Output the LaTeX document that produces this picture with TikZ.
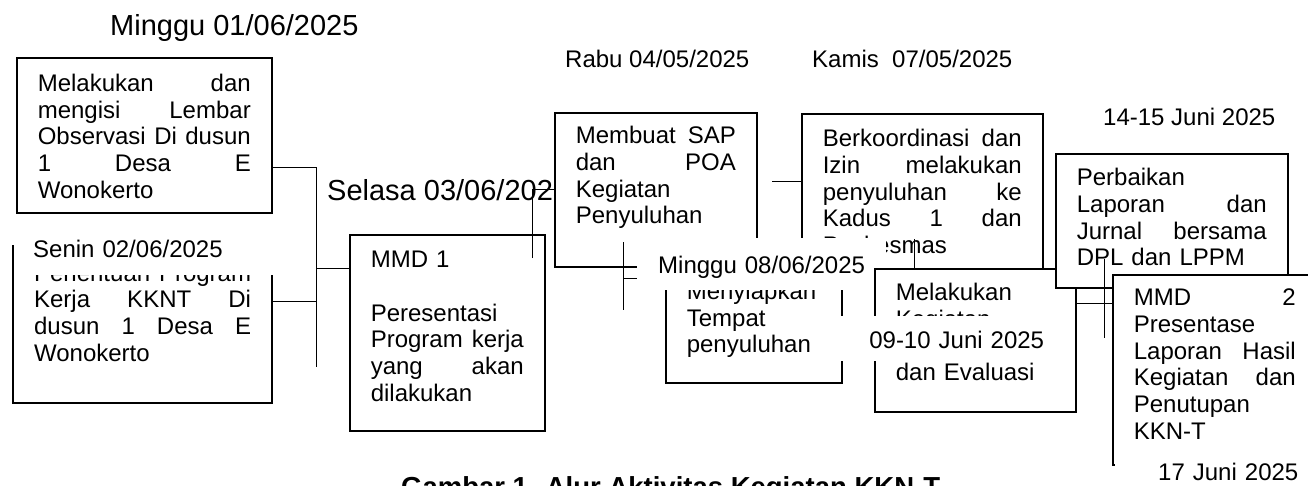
\documentclass[tikz,border=0pt]{standalone}
\usepackage{fontspec}
\setmainfont{Liberation Sans}
\usetikzlibrary{calc}
\newcommand{\isi}{\fontsize{24}{26.7}\selectfont}
\newcommand{\besar}{\fontsize{29}{33}\selectfont}
\newcommand{\judul}{\fontsize{27.5}{31}\selectfont\bfseries}

\begin{document}
\begin{tikzpicture}[x=1pt, y=-1pt,
      kotak/.style={draw=black, fill=white, line width=1.6pt, anchor=north west, inner xsep=21pt, inner ysep=0pt, align=left, font=\isi},
      tanggal/.style={fill=white, anchor=north west, inner ysep=0pt, align=left, font=\isi},
      hari/.style={anchor=base west, inner sep=0pt, font=\isi},
      garis/.style={line width=0.9pt}]
      \useasboundingbox (0,0) rectangle (1308,485);
      \node (minggu1) at (110,35.5) [hari, font=\besar] {Minggu 01/06/2025};
      \node (obs) at (16,57) [kotak, text width=213pt, text height=33.7pt, text depth=121.3pt]
        {Melakukan\hfill dan\\ mengisi\hfill Lembar\\ Observasi\hfill Di\hfill dusun\\ 1\hfill Desa\hfill E\\ Wonokerto};
      \coordinate (t1) at (316,167);
      \coordinate (t2) at (316,367);
      \draw[garis] (t1 -| obs.east) -- (t1) -- (t2);
      \node (pkerja) at (12,245) [kotak, line width=2.2pt, text width=217pt, text height=35pt, text depth=122pt]
        {Penentuan\hfill Program\\ Kerja\hfill KKNT\hfill Di\\ dusun\hfill 1\hfill Desa\hfill E\\ Wonokerto};
      \coordinate (t3) at (316,301);
      \draw[garis] (t3 -| pkerja.east) -- (t3);
      \node (senin) at (14,233) [tanggal, inner xsep=19pt, text width=224pt, text height=24pt, text depth=18pt] {Senin 02/06/2025};
      \node (mmd1) at (349,234) [kotak, text width=153pt, text height=33pt, text depth=163pt]
        {MMD 1\\[26.7pt] Peresentasi\\ Program\hfill kerja\\ yang\hfill akan\\ dilakukan};
      \coordinate (t4) at (316,268);
      \draw[garis] (t4) -- (t4 -| mmd1.west);
      \node (selasa) at (327,200) [hari, font=\besar] {Selasa 03/06/2025};
      % SAP dan POA
      \node (sap) at (554,112) [kotak, text width=160pt, text height=31pt, text depth=123pt]
        {Membuat\hfill SAP\\ dan\hfill POA\\ Kegiatan\\ Penyuluhan};
      \coordinate (b1) at (532,258);
      \draw[garis] (b1) |- (sap.west);
      \node (rabu) at (565,67) [hari] {Rabu 04/05/2025};
      \node (kamis) at (812,67) [hari] {Kamis\ \ 07/05/2025};
      \node (koord) at (801,113) [kotak, text width=199pt, text height=33pt, text depth=139pt]
        {Berkoordinasi\hfill dan\\ Izin\hfill melakukan\\ penyuluhan\hfill ke\\ Kadus\hfill 1\hfill dan\\ Puskesmas};
      \coordinate (c3) at (772,181);
      \draw[garis] (c3) -- (c3 -| koord.west);
      \node (siap) at (665,262) [kotak, text width=134pt, text height=36.5pt, text depth=83.5pt]
        {Menyiapkan\\ Tempat\\ penyuluhan};
      \coordinate (c4) at (623,242);
      \coordinate (c5) at (623,310);
      \draw[garis] (c4) -- (c5);
      \coordinate (c6) at (623,278);
      \draw[garis] (c6) -- (c6 -| siap.west);
      \node (minggu8) at (637,238) [tanggal, inner xsep=21pt, text width=207pt, text height=35pt, text depth=17pt] {Minggu 08/06/2025};
      \node (evaluasi) at (874,268) [kotak, text width=159pt, text height=32pt, text depth=111pt]
        {Melakukan\\ Kegiatan\\[26.7pt] dan Evaluasi};
      \coordinate (c7) at (914,239);
      \draw[garis] (c7) -- (c7 |- evaluasi.north);
      \node (perbaikan) at (1055,153) [kotak, text width=190pt, text height=32pt, text depth=102pt]
        {Perbaikan\\ Laporan\hfill dan\\ Jurnal\hfill bersama\\ DPL dan LPPM};
      \node (tgl910) at (838,316) [tanggal, inner xsep=0pt, text width=237pt, align=center, text height=32pt, text depth=13pt] {09-10 Juni 2025};
      \node (tgl1415) at (1103,125) [hari] {14-15 Juni 2025};
      % MMD 2
      \node (mmd2) at (1112,274) [kotak, text width=162pt, text height=31pt, text depth=159pt]
        {MMD\hfill 2\\ Presentase\\ Laporan\hfill Hasil\\ Kegiatan\hfill dan\\ Penutupan\\ KKN-T};
      \coordinate (c8) at (1104,259);
      \coordinate (c9) at (1104,338);
      \draw[garis] (c8) -- (c9);
      \coordinate (c10) at (1090,303);
      \draw[garis] (c10 -| evaluasi.east) -- (c10 -| mmd2.west);
      \node (tgl17) at (1115,463) [tanggal, inner xsep=43pt, text width=150pt, text height=17pt, text depth=14pt] {17 Juni 2025};
      \node (judul) at (401,496) [hari, font=\judul] {Gambar 1. Alur Aktivitas Kegiatan KKN-T};
\end{tikzpicture}
\end{document}
